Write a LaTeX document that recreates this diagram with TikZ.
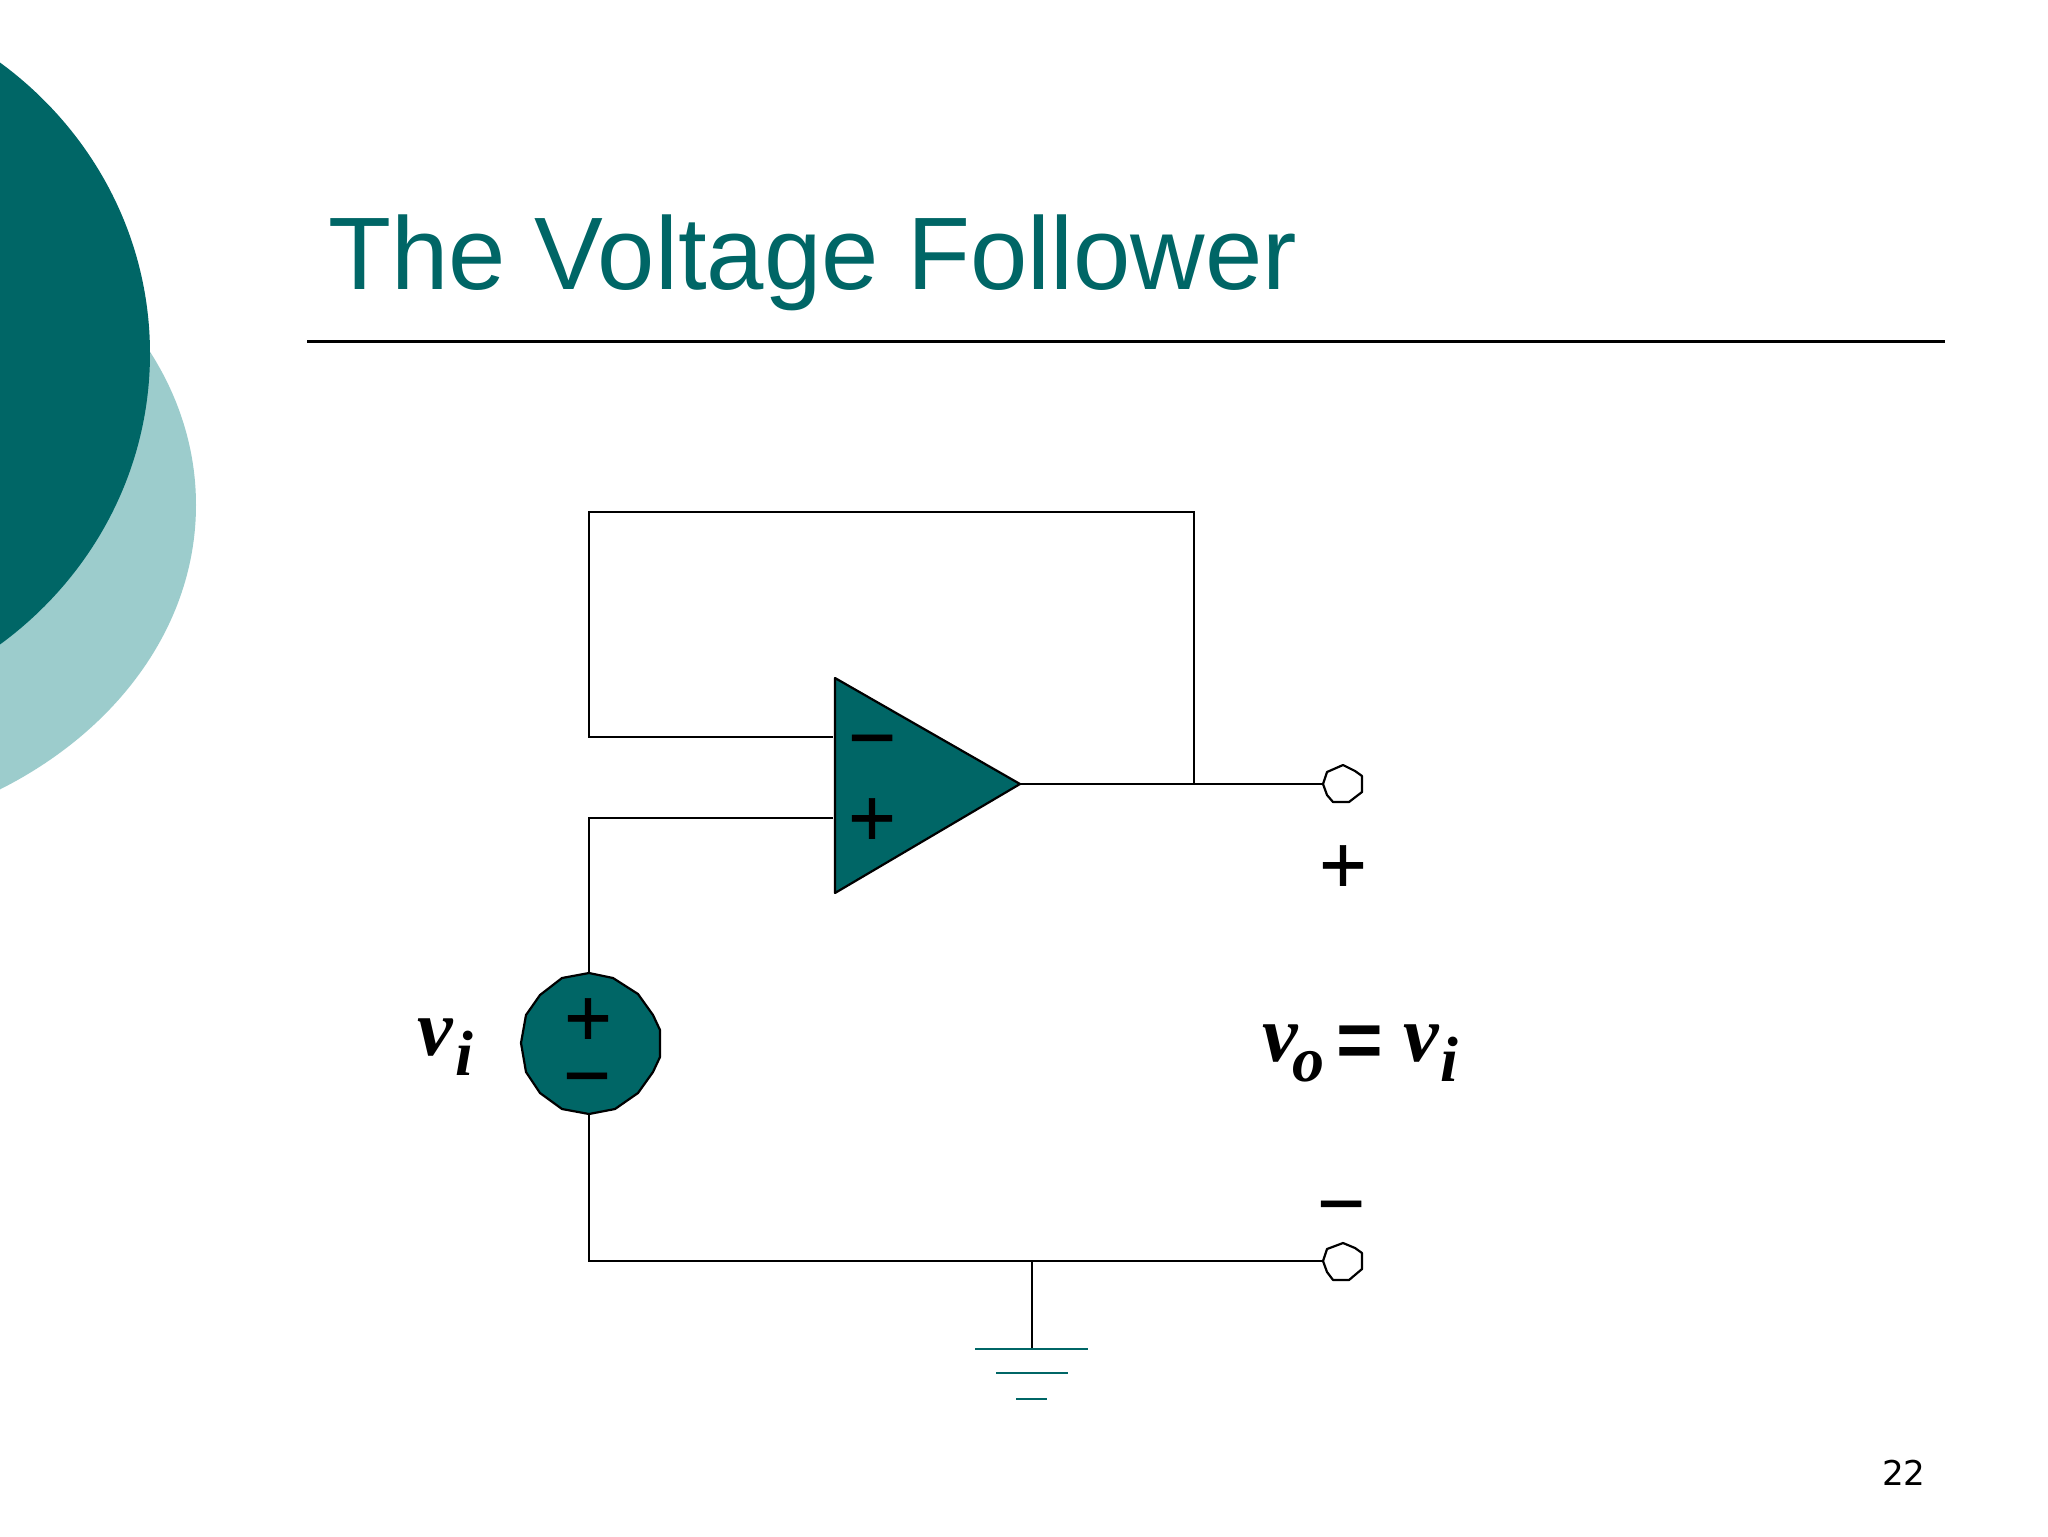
\documentclass[tikz,border=0pt]{standalone}
\usepackage{fontspec}
\setmainfont{Liberation Sans}
\newfontfamily\serifbi{Liberation Serif Bold Italic}
\newfontfamily\symf[FakeBold=0.7]{Liberation Sans}
\newfontfamily\dejavu{DejaVu Sans}
\definecolor{teal1}{HTML}{006666}
\definecolor{teal2}{HTML}{9CCCCC}
\begin{document}
\begin{tikzpicture}[x=0.5pt,y=-0.5pt,
  wire/.style={draw=black,line width=1.1pt,line cap=butt,line join=miter},
  shapeline/.style={draw=black,line width=1.1pt,line join=round},
  gnd/.style={draw=teal1,line width=1.1pt},
  term/.style={draw=black,fill=white,line width=1.1pt,line join=round},
  sym/.style={inner sep=0pt,outer sep=0pt,text=black,font=\symf\fontsize{41}{41}\selectfont},
  math/.style={inner sep=0pt,outer sep=0pt,anchor=base west,text=black},
  big/.style={math,font=\serifbi\fontsize{40}{40}\selectfont},
  small/.style={math,font=\serifbi\fontsize{32}{32}\selectfont}]
\useasboundingbox (0,0) rectangle (2048,1536);
\fill[white] (0,0) rectangle (2048,1536);
% decorative ellipses
\begin{scope}
\clip (0,0) rectangle (2048,1536);
\fill[teal2] (-220,505) ellipse [x radius=416,y radius=335];
\fill[teal1] (-230,353.5) ellipse [x radius=380,y radius=365.5];
\end{scope}
% title
\node[anchor=base west,inner sep=0pt,text=teal1,font=\fontsize{51.55}{51.55}\selectfont] (title) at (328,289) {The Voltage Follower};
\coordinate (ruleA) at (307,341);
\coordinate (ruleB) at (1945,341);
\draw[black,line width=1.5pt] (ruleA) -- (ruleB);
% amplifier
\coordinate (ampT) at (835,678);
\coordinate (ampB) at (835,893);
\coordinate (ampO) at (1020,784);
\draw[shapeline,fill=teal1] (ampT) -- (ampO) -- (ampB) -- cycle;
\node[sym] (ampminus) at (872,750) {−};
\node[sym] (ampplus) at (872,822) {+};
% source
\coordinate (srcT) at (589,973);
\coordinate (srcB) at (589,1114);
\draw[shapeline,fill=teal1] (srcT) -- (613,978) -- (638,994) -- (653,1015) -- (660,1030) -- (660,1057) -- (653,1072) -- (638,1093) -- (615,1109) -- (srcB) -- (562,1109) -- (540,1093) -- (526,1072) -- (521,1043) -- (526,1015) -- (540,995) -- (562,978) -- cycle;
\node[sym] (srcplus) at (588,1022) {+};
\node[sym] (srcminus) at (587,1088) {−};
% terminals
\node[coordinate] (t1) at (1323,784) {};
\node[coordinate] (t2) at (1323,1261) {};
\draw[term] (t1) -- (1327,772) -- (1343,765) -- (1355,771) -- (1362,776) -- (1362,792) -- (1349,802) -- (1333,802) -- (1327,795) -- cycle;
\draw[term] (t2) -- (1327,1249) -- (1343,1243) -- (1355,1248) -- (1362,1253) -- (1362,1269) -- (1349,1280) -- (1333,1280) -- (1327,1272) -- cycle;
% wires
\coordinate (inM) at (833,737);
\coordinate (inP) at (833,818);
\coordinate (cornerA) at (589,737);
\coordinate (cornerB) at (589,512);
\coordinate (cornerC) at (1194,512);
\coordinate (tap) at (1194,784);
\coordinate (cornerD) at (589,818);
\coordinate (cornerE) at (589,1261);
\coordinate (gndJ) at (1032,1261);
\coordinate (gndT) at (1032,1348);
\draw[wire] (inM) -- (cornerA) -- (cornerB) -- (cornerC) -- (tap);
\draw[wire] (ampO) -- (t1);
\draw[wire] (inP) -- (cornerD) -- (srcT);
\draw[wire] (srcB) -- (cornerE) -- (t2);
\draw[wire] (gndJ) -- (gndT);
% ground
\draw[gnd] (975,1349) -- (1088,1349);
\draw[gnd] (996,1373) -- (1068,1373);
\draw[gnd] (1016,1399) -- (1047,1399);
% labels
\node[big] (vi) at (417,1055) {v};
\node[small] (visub) at (455,1075) {i};
\node[sym] (oplus) at (1343,869) {+};
\node[sym] (ominus) at (1341,1216) {−};
\node[big] (vo) at (1262,1061) {v};
\node[small] (vosub) at (1292,1081) {o};
\node[sym,font=\bfseries\fontsize{40}{40}\selectfont] (eq) at (1360,1047) {=};
\node[big] (vi2) at (1403,1061) {v};
\node[small] (vi2sub) at (1440,1081) {i};
\node[anchor=base east,inner sep=0pt,text=black,font=\dejavu\fontsize{17.07}{17.07}\selectfont] (page) at (1926,1485) {22};
\end{tikzpicture}
\end{document}
